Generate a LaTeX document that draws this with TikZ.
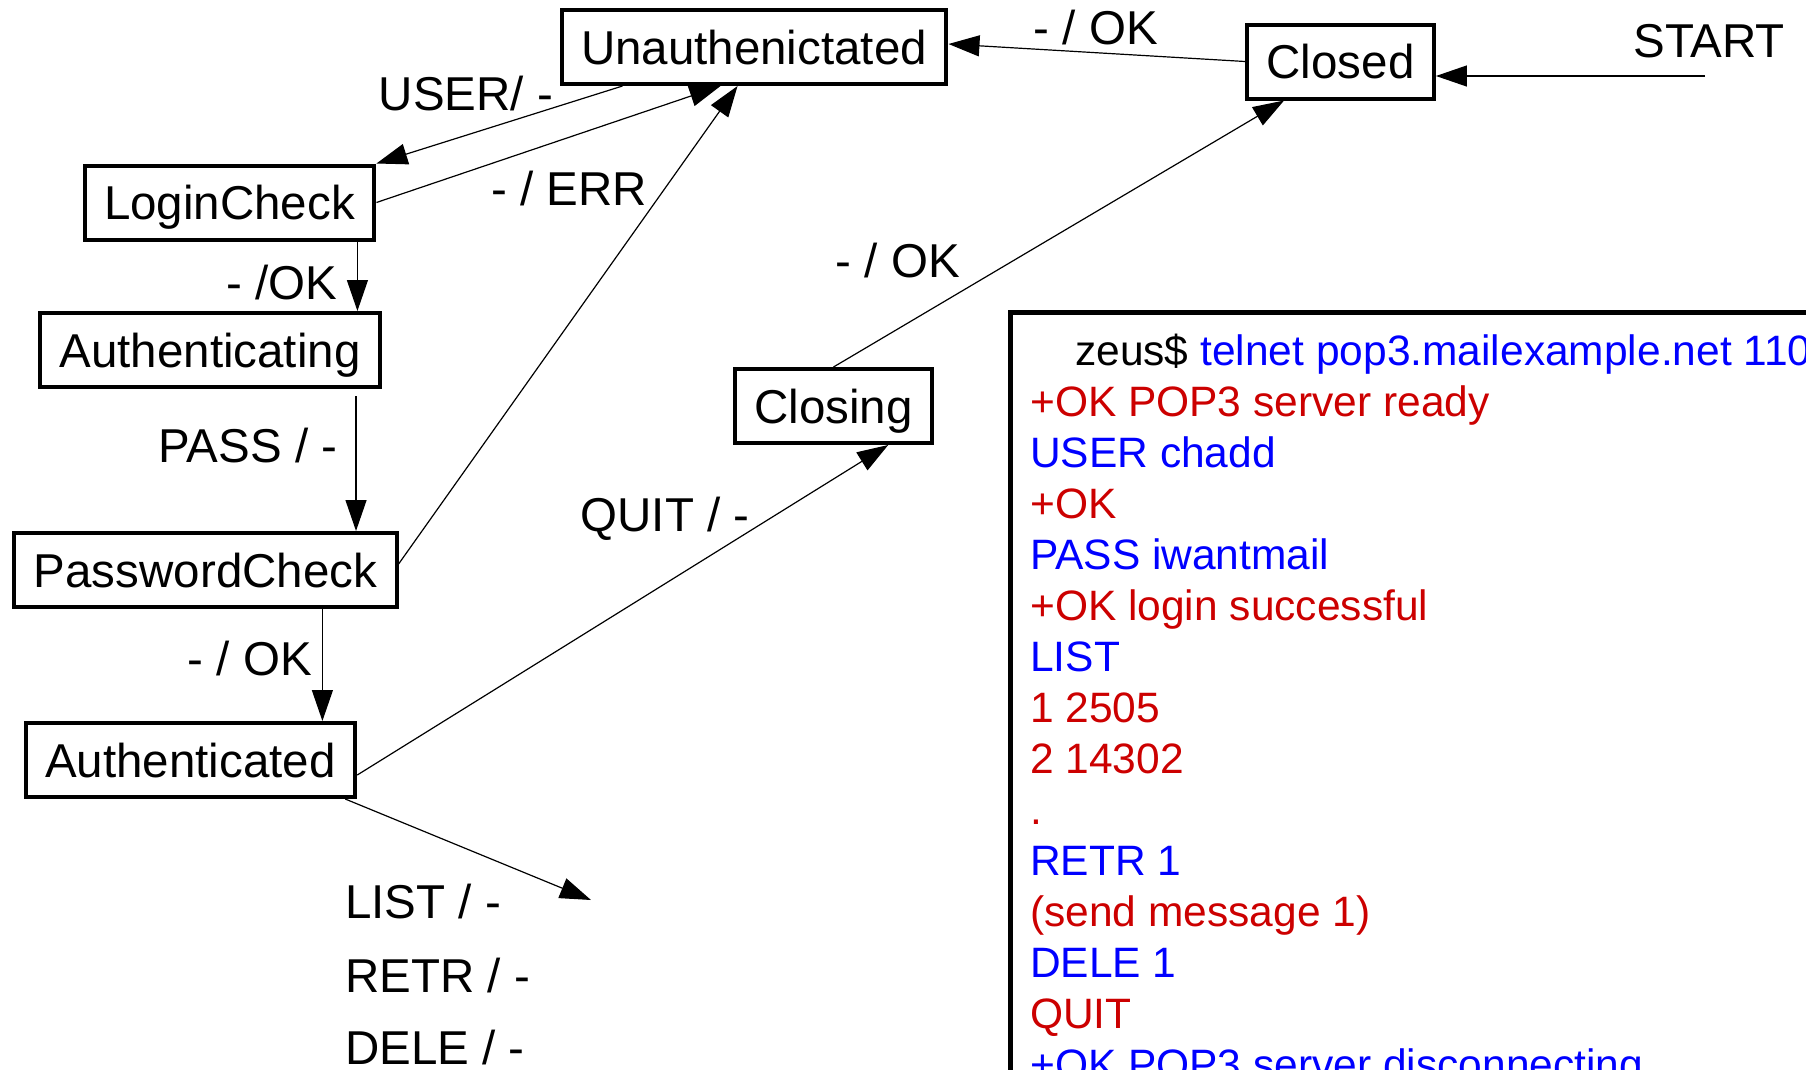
\documentclass[tikz,border=0pt]{standalone}
\usepackage{fontspec}
\setmainfont{Liberation Sans}
\usetikzlibrary{arrows.meta, positioning}

\definecolor{cmdblue}{RGB}{0,0,255}
\definecolor{replyred}{RGB}{204,0,0}

\begin{document}
\begin{tikzpicture}[
  x=1pt, y=-1pt,
  state/.style = {rectangle, draw=black, line width=4pt, minimum height=74pt,
                  inner xsep=19.5pt, inner ysep=0pt, text height=34pt, text depth=0pt,
                  font=\fontsize{47.5}{57}\selectfont},
  trans/.style = {inner sep=0pt, text height=34pt, text depth=0pt,
                  font=\fontsize{47.5}{57}\selectfont},
  arr/.style   = {-{Triangle[length=31pt,width=21pt]}, line width=1.2pt},
  sline/.style = {inner sep=0pt, anchor=base west, font=\fontsize{42.5}{51}\selectfont}
]

\useasboundingbox (0,0) rectangle (1806,1069);
\clip (0,0) rectangle (1806,1069);

%% ── States ───────────────────────────────────────────────────────────────────
\node[state] (unauth)  at (754,47)      {Unauthenictated};
\node[state] (closed)  at (1340.5,61.5) {Closed};
\node[state] (login)   at (229.5,202.5) {LoginCheck};
\node[state] (authing) at (210,350)     {Authenticating};
\node[state] (pwcheck) at (205.5,570)   {PasswordCheck};
\node[state] (authed)  at (190.5,760)   {Authenticated};
\node[state] (closing) at (833.5,406)   {Closing};

\coordinate (start) at (1705,76);
\coordinate (cmds)  at (591,900);

%% ── Transitions ──────────────────────────────────────────────────────────────
\draw[arr] (start) -- (start -| closed.east);
\draw[arr] (closed.west) -- ([yshift=3pt]unauth.east);
\draw[arr] ([xshift=63pt]unauth.south west) -- (login.north east);
\draw[arr] (login.east) -- ([xshift=161pt]unauth.south west);
\draw[arr] ([xshift=-19pt]login.south east) -- ([xshift=-19pt]login.south east |- authing.north);
\draw[arr] ([xshift=-26pt,yshift=-7pt]authing.south east) -- ([xshift=-26pt]authing.south east |- pwcheck.north);
\draw[arr] ([yshift=6pt]pwcheck.east) -- ([xshift=178pt]unauth.south west);
\draw[arr] ([xshift=310pt]pwcheck.south west) -- ([xshift=310pt]pwcheck.south west |- authed.north);
\draw[arr] ([yshift=-15pt]authed.east) -- ([xshift=-46pt]closing.south east);
\draw[arr] (closing.north) -- ([xshift=39pt]closed.south west);
\draw[arr] ([xshift=-12pt]authed.south east) -- (cmds);

%% ── Transition labels ────────────────────────────────────────────────────────
\node[trans] (tStart)   at (1709,40)  {START};
\node[trans] (tClosed)  at (1096,27)  {- / OK};
\node[trans] (tUser)    at (466,93)   {USER/ -};
\node[trans] (tErr)     at (569,188)  {- / ERR};
\node[trans] (tLoginOk) at (282,282)  {- /OK};
\node[trans] (tPass)    at (248,445)  {PASS / -};
\node[trans] (tPassOk)  at (250,658)  {- / OK};
\node[trans] (tQuit)    at (665,514)  {QUIT / -};
\node[trans] (tClose)   at (898,260)  {- / OK};
\node[trans, anchor=west] (tList) at (345,901)  {LIST / -};
\node[trans, anchor=west] (tRetr) at (345,975)  {RETR / -};
\node[trans, anchor=west] (tDele) at (345,1047) {DELE / -};

%% ── Sample session ───────────────────────────────────────────────────────────
\node[draw, line width=5pt, minimum width=900pt, minimum height=800pt,
      anchor=north west] (session) at (1008,310) {};
\node[sline] (l0) at (1075,365) {zeus\$ \textcolor{cmdblue}{telnet pop3.mailexample.net 110}};
\foreach \col/\txt [count=\i] in {replyred/+OK POP3 server ready, cmdblue/USER chadd,
    replyred/+OK, cmdblue/PASS iwantmail, replyred/+OK login successful, cmdblue/LIST,
    replyred/1 2505, replyred/2 14302, replyred/., cmdblue/RETR 1,
    replyred/(send message 1), cmdblue/DELE 1, replyred/QUIT,
    cmdblue/+OK POP3 server disconnecting}
  \node[sline, text=\col] (l\i) at (1030,{365+51*\i}) {\txt};

\end{tikzpicture}
\end{document}
